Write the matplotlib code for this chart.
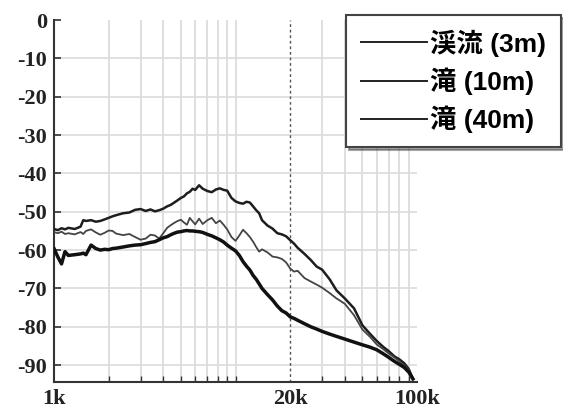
import matplotlib
matplotlib.use("Agg")
import matplotlib.pyplot as plt
from matplotlib.font_manager import FontProperties
from matplotlib.ticker import FixedLocator, FixedFormatter, NullFormatter
import numpy as np

plt.rcParams["axes.unicode_minus"] = False

# frequency grid (kHz) and levels (dB) of the three recordings
freq_khz = [1.0, 1.05, 1.1, 1.15, 1.2, 1.3, 1.4, 1.45, 1.5, 1.6, 1.7, 1.8, 1.9,
            2.0, 2.1, 2.2, 2.4, 2.6, 2.8, 3.0, 3.2, 3.4, 3.6, 3.8, 4.0, 4.2,
            4.4, 4.6, 4.8, 5.0, 5.2, 5.4, 5.6, 5.8, 6.0, 6.3, 6.6, 7.0, 7.4,
            7.8, 8.2, 8.6, 9.0, 9.5, 10, 10.5, 11, 11.5, 12, 12.5, 13, 13.5,
            14, 15, 16, 17, 18, 19, 20, 21, 22, 24, 26, 28, 30, 33, 36, 40,
            45, 50, 55, 60, 65, 70, 75, 80, 85, 90, 95]

stream_3m = [-54.5, -54.8, -54.3, -54.6, -54.2, -54.5, -53.9, -52.2, -52.4,
             -52.2, -52.6, -52.4, -52.0, -51.6, -51.2, -50.9, -50.4, -50.2,
             -49.5, -49.3, -49.8, -49.4, -49.9, -49.6, -49.2, -48.6, -48.2,
             -47.6, -47.0, -46.4, -46.0, -45.2, -44.8, -44.0, -44.3, -43.1,
             -44.0, -44.6, -44.9, -44.2, -43.9, -44.3, -44.5, -46.4, -47.3,
             -47.7, -47.9, -47.4, -47.6, -48.6, -49.6, -50.4, -52.2, -53.6,
             -54.4, -55.6, -55.9, -56.4, -57.4, -58.3, -59.4, -61.0, -62.6,
             -64.3, -65.1, -67.6, -70.5, -72.6, -75.2, -79.6, -81.8, -83.7,
             -85.2, -86.4, -87.7, -88.5, -89.5, -91.0, -93.6]

fall_10m = [-55.3, -55.6, -55.2, -55.8, -55.6, -55.9, -55.3, -55.8, -55.0,
            -54.6, -55.4, -56.0, -55.5, -54.9, -55.0, -55.7, -56.1, -55.8,
            -56.6, -57.3, -57.0, -56.0, -56.2, -57.0, -55.6, -54.2, -53.5,
            -52.9, -52.4, -52.1, -52.8, -53.4, -51.6, -52.5, -53.3, -51.8,
            -53.2, -52.2, -51.6, -53.0, -52.3, -53.4, -54.6, -56.6, -57.6,
            -56.2, -54.7, -55.6, -56.6, -57.8, -59.2, -60.4, -59.8, -60.6,
            -61.7, -61.9, -62.3, -63.2, -64.8, -65.6, -65.4, -67.3, -68.2,
            -69.0, -69.8, -71.2, -72.6, -74.0, -77.0, -80.7, -82.6, -84.6,
            -85.8, -87.0, -88.0, -89.0, -90.0, -91.3, -93.6]

fall_40m = [-59.6, -61.8, -63.6, -60.4, -61.4, -61.2, -61.0, -60.8, -61.2,
            -58.7, -59.6, -60.0, -59.8, -59.9, -59.6, -59.5, -59.2, -58.9,
            -58.7, -58.6, -58.3, -58.0, -57.8, -57.3, -56.8, -56.5, -56.0,
            -55.6, -55.3, -55.2, -55.0, -54.9, -55.0, -55.0, -55.1, -55.2,
            -55.4, -55.9, -56.3, -56.8, -57.3, -57.9, -58.7, -59.5, -60.2,
            -61.4, -63.0, -64.2, -65.2, -66.6, -67.6, -68.8, -70.0, -71.6,
            -73.0, -74.6, -75.8, -76.4, -77.4, -77.8, -78.3, -79.2, -80.0,
            -80.6, -81.2, -81.9, -82.5, -83.2, -84.0, -84.7, -85.3, -86.0,
            -87.0, -88.0, -89.0, -89.8, -90.6, -91.8, -93.6]

labels = ["渓流 (3m)", "滝 (10m)", "滝 (40m)"]
y_ticks = [0, -10, -20, -30, -40, -50, -60, -70, -80, -90]
x_label_pos = [1000, 20000, 100000]
x_label_txt = ["1k", "20k", "100k"]

f = np.array(freq_khz) * 1000.0

fig = plt.figure(figsize=(5.63, 4.12), dpi=100)
ax = fig.add_axes([54 / 563, 1 - 382 / 412, (417 - 54) / 563, (382 - 20) / 412])

ax.plot(f, stream_3m, color="#1e1e1e", lw=1.8, label=labels[0], zorder=3)
ax.plot(f, fall_10m, color="#444444", lw=1.3, label=labels[1], zorder=3)
ax.plot(f, fall_40m, color="#111111", lw=2.5, label=labels[2], zorder=3)

ax.set_xscale("log")
ax.set_xlim(1000, 100000)
ax.set_ylim(-94.4, 0)

minor = sorted(set([k * 10 ** e for e in (3, 4) for k in range(2, 10)] + [10000]))
ax.xaxis.set_major_locator(FixedLocator(x_label_pos))
ax.xaxis.set_major_formatter(FixedFormatter(x_label_txt))
ax.xaxis.set_minor_locator(FixedLocator(minor))
ax.xaxis.set_minor_formatter(NullFormatter())
ax.set_yticks(y_ticks)

# light grid, with a dotted marker line at 20 kHz
for v in minor:
    if v != 20000:
        ax.axvline(v, color="#d9d9d9", lw=1.2, zorder=1)
ax.axvline(20000, color="#555555", lw=1.0, ls=(0, (2, 2)), zorder=2)
for v in y_ticks[1:]:
    ax.axhline(v, color="#dcdcdc", lw=1.2, zorder=1)

for s in ("top", "right"):
    ax.spines[s].set_visible(False)
for s in ("left", "bottom"):
    ax.spines[s].set_color("#333333")
    ax.spines[s].set_linewidth(1.5)

ax.tick_params(axis="both", which="both", direction="in", color="#333333")
ax.tick_params(axis="x", which="major", length=0, pad=5)
ax.tick_params(axis="x", which="minor", length=4, width=1.0)
ax.tick_params(axis="y", which="major", length=5, width=1.2, pad=5)
for t in ax.get_xticklabels() + ax.get_yticklabels():
    t.set_fontfamily("Liberation Serif")
    t.set_fontweight("bold")
    t.set_fontsize(16)
    t.set_color("#222222")

leg_font = FontProperties(family=["Liberation Sans", "Noto Sans CJK JP"],
                          weight="bold", size=19)
leg = ax.legend(loc="upper right", bbox_to_anchor=(561 / 563, 1 - 15 / 412),
                bbox_transform=fig.transFigure, borderaxespad=0, prop=leg_font,
                handlelength=2.5, handletextpad=0.15, labelspacing=0.4,
                frameon=True, fancybox=False, shadow=True, borderpad=0.55)
leg.get_frame().set_edgecolor("#444444")
leg.get_frame().set_linewidth(1.5)
for h in leg.get_lines():
    h.set_color("#222222")
    h.set_linewidth(1.4)

fig.savefig("out.png", dpi=100)
